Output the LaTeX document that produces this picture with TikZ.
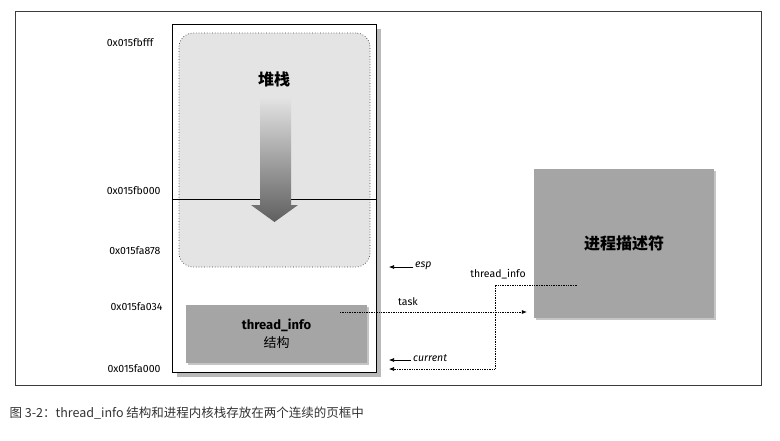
\documentclass[tikz,border=0pt]{standalone}
\usepackage{fontspec}
\setmainfont{Fira Sans}
\newfontfamily\cjk{Noto Sans CJK SC}
\usetikzlibrary{shadows,arrows.meta,positioning,calc}
\definecolor{boxgris}{RGB}{165,165,165}
\definecolor{zonegris}{RGB}{228,228,228}
\definecolor{traitgris}{RGB}{60,60,60}
\definecolor{ombre}{RGB}{140,140,140}
\definecolor{ombrefonce}{RGB}{115,115,115}
\tikzset{
  addr/.style={font=\fontsize{10.5}{12}\selectfont, anchor=east},
  lbl/.style={font=\fontsize{10.5}{12}\selectfont},
  ptr/.style={-{Latex[length=5pt,width=4pt]}, line width=0.6pt},
  dotptr/.style={densely dotted, line width=0.7pt},
  graybox/.style={fill=boxgris, draw=none, inner sep=0pt,
    drop shadow={shadow xshift=2pt, shadow yshift=-2pt, fill=ombre}}
}
\begin{document}
\begin{tikzpicture}[x=1pt,y=-1pt]
    \useasboundingbox (0,0) rectangle (780,440);
    \draw[traitgris, line width=0.8pt] (15,11) rectangle (761,385);
    % two page frames
    \node[draw, fill=white, line width=1pt, minimum width=204pt, minimum height=348pt, inner sep=0pt,
      drop shadow={shadow xshift=5pt, shadow yshift=-5pt, fill=ombrefonce}] (page) at (274,198) {};
    \node[draw=traitgris, dotted, line width=0.7pt, fill=zonegris, rounded corners=14pt,
      minimum width=191pt, minimum height=234pt, inner sep=0pt] (stack) at (274.5,150) {};
    \draw[line width=1pt] (page.west |- 0,199) -- (page.east |- 0,199);
    % growing direction of the stack
    \shade[top color=zonegris, bottom color={rgb,255:red,95;green,95;blue,95}]
      (260,97) -- (291,97) -- (291,205) -- (298,205) -- (274.5,222) -- (251,205) -- (260,205) -- cycle;
    \node[font=\cjk\bfseries\fontsize{16}{18}\selectfont] (stacklbl) at (274,79) {堆栈};
    \node[graybox, minimum width=181pt, minimum height=58pt, align=center,
      font=\fontsize{13}{18}\selectfont] (tinfo) at (276.5,334)
      {\textbf{thread\_info}\\{\cjk 结构}};
    \node[graybox, minimum width=180pt, minimum height=149pt,
      font=\cjk\bfseries\fontsize{16}{18}\selectfont] (procdesc) at (624,243.5) {进程描述符};
    % addresses
    \node[addr] (a1) at (157,43) {0x015fbfff};
    \node[addr] (a2) at (164,191) {0x015fb000};
    \node[addr] (a3) at (164,251) {0x015fa878};
    \node[addr] (a4) at (166,307) {0x015fa034};
    \node[addr] (a5) at (164,369) {0x015fa000};
    % pointers
    \coordinate (esptip) at (389,267);
    \node[lbl, anchor=west, font=\itshape\fontsize{10.5}{12}\selectfont, inner sep=2pt] (esp) at (413,266) {esp};
    \draw[ptr] (esp.west |- esptip) -- (esptip);
    \coordinate (curtip) at (389,360);
    \node[lbl, anchor=west, font=\itshape\fontsize{10.5}{12}\selectfont, inner sep=2pt] (current) at (411,358) {current};
    \draw[ptr] (current.west |- curtip) -- (curtip);
    \coordinate (tasksrc) at (340,312);
    \draw[dotptr] (tasksrc) -- ([xshift=-12pt]procdesc.west |- tasksrc);
    \draw[ptr] ([xshift=-12pt]procdesc.west |- tasksrc) -- ([xshift=-7pt]procdesc.west |- tasksrc);
    \node[lbl] (task) at (408,302) {task};
    \coordinate (tisrc) at (577,285);
    \coordinate (tibend) at (495,285);
    \coordinate (titip) at (389,369);
    \draw[dotptr] (tisrc) -- (tibend) |- ([xshift=6pt]titip);
    \draw[ptr] ([xshift=6pt]titip) -- (titip);
    \node[lbl] (tilbl) at (498,274) {thread\_info};
    % caption
    \node[anchor=west, font=\cjk\fontsize{12.5}{15}\selectfont, text=black!80] (caption) at (6,413)
      {图 3-2：thread\_info 结构和进程内核栈存放在两个连续的页框中};
\end{tikzpicture}
\end{document}
